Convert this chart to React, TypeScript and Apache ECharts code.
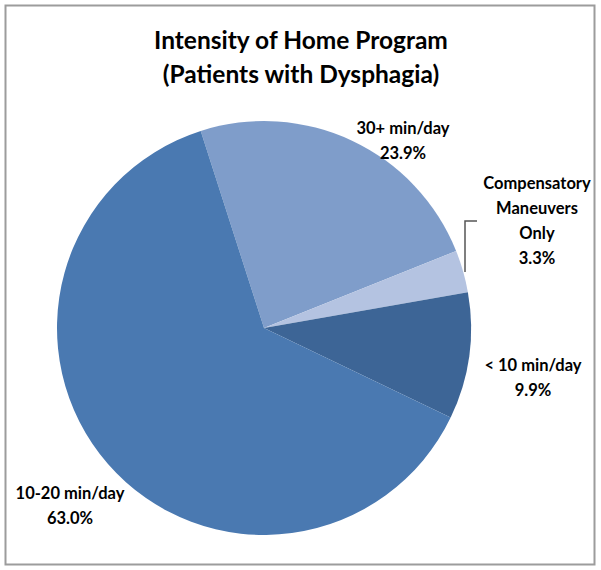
import React, { useEffect, useRef } from "react";
import * as echarts from "echarts";

const categories = ["30+ min/day", "Compensatory\nManeuvers\nOnly", "< 10 min/day", "10-20 min/day"];
const values = [23.9, 3.3, 9.9, 63.0];
const colors = ["#7f9dca", "#b4c3e1", "#3d6596", "#4a79b1"];
const labelPos: [number, number][] = [
  [403, 115],
  [537, 170],
  [533, 352],
  [70, 480],
];

export default function App() {
  const ref = useRef<HTMLDivElement>(null);
  useEffect(() => {
    document.body.style.margin = "0";
    const chart = echarts.init(ref.current!, null, { renderer: "svg" });
    const font = "Lato, 'Open Sans', sans-serif";
    chart.setOption({
      animation: false,
      backgroundColor: "#ffffff",
      title: {
        text: "Intensity of Home Program\n(Patients with Dysphagia)",
        left: 296,
        top: 17,
        textAlign: "center",
        textStyle: { fontFamily: font, fontWeight: "bold", fontSize: 24.5, lineHeight: 34, color: "#000" },
      },
      graphic: [
        {
          type: "rect",
          shape: { x: 5.5, y: 5.5, width: 589, height: 559 },
          style: { fill: "none", stroke: "#9c9c9c", lineWidth: 2 },
          silent: true,
        },
        {
          type: "polyline",
          shape: { points: [[477, 221], [465, 221], [465, 272]] },
          style: { fill: "none", stroke: "#555", lineWidth: 1.5 },
          silent: true,
        },
      ],
      series: [
        {
          type: "pie",
          center: [264, 328],
          radius: 207,
          startAngle: 107.8,
          clockwise: true,
          data: categories.map((name, i) => ({
            name,
            value: values[i],
            itemStyle: { color: colors[i] },
          })),
          label: {
            show: true,
            position: "outside",
            formatter: (p: any) => `${p.name}\n${p.value.toFixed(1)}%`,
            fontFamily: font,
            fontWeight: "bold",
            fontSize: 16.5,
            lineHeight: 25,
            color: "#000",
            align: "center",
            overflow: "none",
          },
          labelLine: { show: false },
          labelLayout: (params: any) => {
            const p = labelPos[params.dataIndex];
            return { x: p[0], y: p[1], align: "center", verticalAlign: "top" };
          },
        },
      ],
    });
    return () => chart.dispose();
  }, []);
  return <div ref={ref} style={{ width: 601, height: 570 }} />;
}
